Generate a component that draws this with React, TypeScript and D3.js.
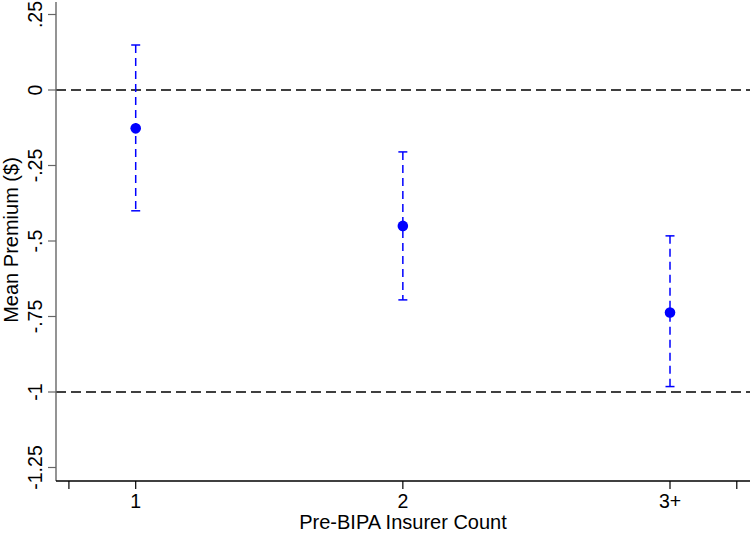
import * as d3 from 'd3';
import React from 'react';

// insurer-count groups and their estimates (mean with 95% CI)
const groups = ['1', '2', '3+'];
const means = [-0.127, -0.45, -0.737];
const lowers = [-0.4, -0.695, -0.982];
const uppers = [0.149, -0.205, -0.483];
const yTicks = [0.25, 0, -0.25, -0.5, -0.75, -1, -1.25];
const yTickLabels = ['.25', '0', '-.25', '-.5', '-.75', '-1', '-1.25'];
const refLines = [0, -1];
const minorTicks = [0.75, 3.25];

const W = 750;
const H = 533;

function App() {
  // pixel mapping
  const x = d3.scaleLinear().domain([1, 3]).range([135.7, 670]);
  const y = d3.scaleLinear().domain([0, -1]).range([90, 392]);

  const axisY = 481;
  const left = 56;
  const font = '"Liberation Sans", Arial, Helvetica, sans-serif';
  const blue = '#0000ff';

  return (
    <svg width={W} height={H} style={{ position: 'absolute', left: 0, top: 0, background: '#fff' }}
      fontFamily={font}>
      {/* reference lines */}
      {refLines.map(v => (
        <line key={v} x1={left} x2={W} y1={y(v)} y2={y(v)}
          stroke="#000" strokeWidth={1.4} strokeDasharray="10,5" />
      ))}

      {/* y axis */}
      <line x1={left} x2={left} y1={2} y2={axisY} stroke="#666" strokeWidth={1.4} />
      {yTicks.map((v, i) => (
        <g key={v}>
          <line x1={left - 8} x2={left} y1={y(v)} y2={y(v)} stroke="#666" strokeWidth={1.2} />
          <text transform={`translate(42,${y(v)}) rotate(-90)`} textAnchor="middle"
            fontSize={19.5} fill="#000">{yTickLabels[i]}</text>
        </g>
      ))}
      <text transform={`translate(18,240) rotate(-90)`} textAnchor="middle" fontSize={20}
        fill="#000">Mean Premium ($)</text>

      {/* x axis */}
      <line x1={left} x2={W} y1={axisY} y2={axisY} stroke="#000" strokeWidth={1.4} />
      {minorTicks.map(v => (
        <line key={v} x1={x(v)} x2={x(v)} y1={axisY} y2={axisY + 8} stroke="#000" strokeWidth={1.2} />
      ))}
      {groups.map((g, i) => (
        <g key={g}>
          <line x1={x(i + 1)} x2={x(i + 1)} y1={axisY} y2={axisY + 8} stroke="#000" strokeWidth={1.2} />
          <text x={x(i + 1)} y={axisY + 27} textAnchor="middle" fontSize={19.5} fill="#000">{g}</text>
        </g>
      ))}
      <text x={403} y={529} textAnchor="middle" fontSize={20} fill="#000">Pre-BIPA Insurer Count</text>

      {/* error bars and means */}
      {groups.map((g, i) => {
        const cx = x(i + 1);
        return (
          <g key={g}>
            <line x1={cx} x2={cx} y1={y(uppers[i])} y2={y(lowers[i])}
              stroke={blue} strokeWidth={1.5} strokeDasharray="8,5" />
            <line x1={cx - 4.5} x2={cx + 4.5} y1={y(uppers[i])} y2={y(uppers[i])} stroke={blue} strokeWidth={1.5} />
            <line x1={cx - 4.5} x2={cx + 4.5} y1={y(lowers[i])} y2={y(lowers[i])} stroke={blue} strokeWidth={1.5} />
            <circle cx={cx} cy={y(means[i])} r={5.3} fill={blue} />
          </g>
        );
      })}
    </svg>
  );
}

export default App;
